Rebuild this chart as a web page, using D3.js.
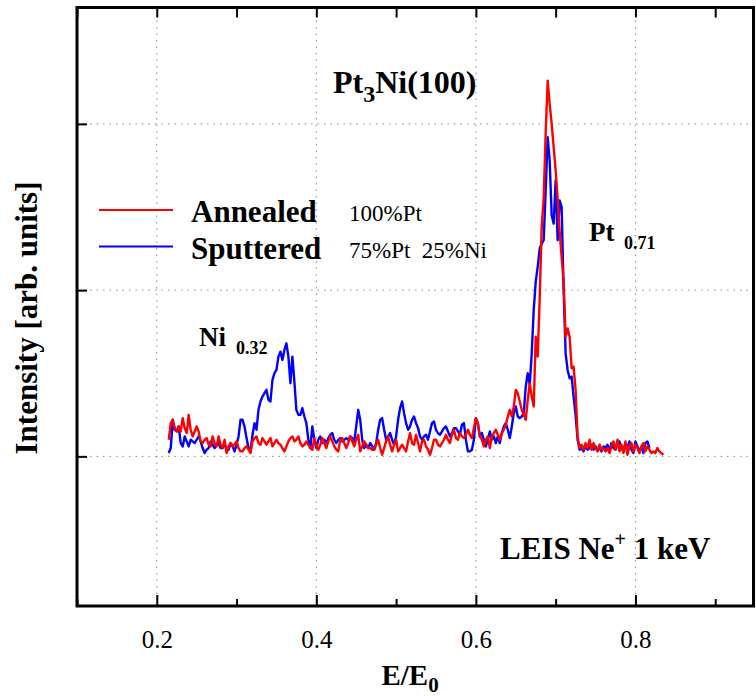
<!DOCTYPE html>
<html><head><meta charset="utf-8">
<script src="https://cdn.jsdelivr.net/npm/d3@7/dist/d3.min.js"></script>
<style>body{margin:0;background:#fff}svg{display:block}text{font-family:"Liberation Serif","Times New Roman",serif;white-space:pre}</style>
</head><body><svg id="c" width="756" height="696"></svg>
<script>
// Energy grid (E/E0) shared by both spectra
const energyStart = 0.215;
const energyStep = 0.0025;
// Annealed (100% Pt) – intensity, arb. units (baseline = 0)
const annealed = [
0.10,0.20,0.22,0.17,0.15,0.18,0.15,0.23,0.17,0.14,
0.25,0.16,0.12,0.15,0.18,0.15,0.09,0.08,0.10,0.11,
0.07,0.06,0.12,0.08,0.06,0.12,0.07,0.05,0.10,0.02,
0.06,0.08,0.06,0.07,0.09,0.05,0.03,0.03,0.05,0.06,
0.04,0.02,0.09,0.11,0.12,0.08,0.07,0.11,0.09,0.07,
0.09,0.11,0.06,0.08,0.10,0.08,0.07,0.05,0.03,0.06,
0.09,0.11,0.12,0.09,0.10,0.12,0.08,0.06,0.07,0.09,
0.07,0.05,0.04,0.11,0.07,0.04,0.07,0.11,0.08,0.05,
0.09,0.12,0.09,0.06,0.04,0.03,0.10,0.11,0.08,0.05,
0.08,0.12,0.09,0.06,0.10,0.13,0.03,0.06,0.09,0.07,
0.05,0.05,0.04,0.04,0.07,0.10,0.05,0.01,0.05,0.09,
0.12,0.07,0.03,0.07,0.10,0.03,0.05,0.07,0.05,0.03,
0.09,0.14,0.08,0.07,0.13,0.08,0.03,0.09,0.10,0.06,
0.04,0.01,0.05,0.10,0.10,0.07,0.06,0.08,0.10,0.13,
0.10,0.08,0.13,0.16,0.11,0.10,0.14,0.12,0.11,0.13,
0.16,0.13,0.11,0.17,0.23,0.20,0.12,0.10,0.06,0.10,
0.12,0.05,0.12,0.14,0.16,0.13,0.10,0.14,0.16,0.19,
0.24,0.28,0.24,0.30,0.40,0.38,0.33,0.28,0.25,0.22,
0.34,0.44,0.36,0.30,0.72,0.60,0.95,1.38,1.55,1.95,
2.26,2.12,2.00,1.86,1.72,1.55,1.35,1.20,1.05,0.72,
0.77,0.72,0.53,0.54,0.40,0.12,0.05,0.07,0.04,0.08,
0.05,0.10,0.04,0.08,0.05,0.03,0.07,0.04,0.05,0.03,
0.05,0.02,0.06,0.09,0.04,0.10,0.03,0.07,0.02,0.09,
0.01,0.06,0.08,0.03,0.07,0.05,0.02,0.06,0.08,0.03,
0.06,0.04,0.02,0.03,0.02,0.05,0.03,0.02,0.01
];
// Sputtered (75% Pt 25% Ni)
const sputtered = [
0.02,0.05,0.22,0.16,0.15,0.18,0.08,0.06,0.12,0.09,
0.06,0.10,0.09,0.08,0.10,0.12,0.09,0.05,0.02,0.04,
0.05,0.09,0.07,0.05,0.07,0.08,0.05,0.05,0.07,0.05,
0.04,0.08,0.06,0.03,0.07,0.12,0.22,0.22,0.18,0.11,
0.05,0.03,0.13,0.20,0.16,0.28,0.33,0.36,0.38,0.40,
0.34,0.33,0.46,0.50,0.52,0.60,0.63,0.58,0.64,0.68,
0.60,0.44,0.60,0.45,0.28,0.25,0.25,0.29,0.24,0.20,
0.10,0.05,0.18,0.10,0.05,0.10,0.12,0.08,0.10,0.08,
0.11,0.13,0.14,0.10,0.08,0.10,0.11,0.09,0.10,0.11,
0.10,0.12,0.11,0.09,0.18,0.28,0.22,0.10,0.05,0.07,
0.05,0.08,0.06,0.04,0.08,0.16,0.22,0.23,0.16,0.10,
0.12,0.14,0.10,0.07,0.12,0.22,0.29,0.33,0.26,0.20,
0.16,0.18,0.22,0.24,0.20,0.17,0.12,0.10,0.12,0.13,
0.10,0.15,0.20,0.21,0.16,0.14,0.13,0.15,0.17,0.18,
0.15,0.12,0.14,0.17,0.17,0.15,0.13,0.19,0.20,0.10,
0.03,0.03,0.04,0.10,0.23,0.20,0.12,0.14,0.10,0.06,
0.10,0.15,0.10,0.12,0.08,0.12,0.08,0.14,0.18,0.20,
0.16,0.11,0.18,0.26,0.30,0.24,0.23,0.24,0.26,0.42,
0.50,0.43,0.62,0.88,1.05,1.14,1.25,1.28,1.30,1.60,
1.92,1.78,1.45,1.40,1.66,1.30,1.54,1.50,1.00,0.62,
0.52,0.47,0.48,0.36,0.25,0.10,0.04,0.05,0.03,0.06,
0.04,0.05,0.07,0.04,0.06,0.04,0.05,0.03,0.06,0.05,
0.07,0.03,0.08,0.05,0.04,0.07,0.09,0.05,0.03,0.08,
0.05,0.09,0.04,0.02,0.09,0.06,0.03,0.06,0.02,0.08,
0.09,0.05
];
const xMajorTicks = [0.2, 0.4, 0.6, 0.8];
const xMinorTicks = [0.1, 0.3, 0.5, 0.7, 0.9];
const xTickLabels = ["0.2", "0.4", "0.6", "0.8"];
const yTicks = [0, 1, 2];
const seriesNames = ["Annealed", "Sputtered"];
const seriesNotes = ["100%Pt", "75%Pt  25%Ni"];
const seriesColors = ["#ff0000", "#0000ff"];

const svg = d3.select("#c");
const L = 77, R = 753.5, T = 7.5, B = 606;
const x = d3.scaleLinear().domain([0.1, 0.948]).range([L, R]);
const y = d3.scaleLinear().domain([-0.9, 2.7]).range([B, T]);
const serif = '"Liberation Serif","Times New Roman",serif';

// grid
const grid = svg.append("g").attr("stroke", "#8a8a8a").attr("stroke-width", 1).attr("stroke-dasharray", "1.5,5");
grid.selectAll("line.v").data(xMajorTicks).join("line")
  .attr("x1", d => x(d)).attr("x2", d => x(d)).attr("y1", T).attr("y2", B);
grid.selectAll("line.h").data(yTicks).join("line")
  .attr("x1", L).attr("x2", R).attr("y1", d => y(d)).attr("y2", d => y(d));

// spectra
const line = d3.line().x((d, i) => x(energyStart + i * energyStep)).y(d => y(d));
svg.append("path").datum(sputtered).attr("d", line).attr("fill", "none")
  .attr("stroke", seriesColors[1]).attr("stroke-width", 2.4).attr("stroke-linejoin", "round");
svg.append("path").datum(annealed).attr("d", line).attr("fill", "none")
  .attr("stroke", seriesColors[0]).attr("stroke-width", 2.4).attr("stroke-linejoin", "round");

// axes (ticks inward)
function styleAxis(g){ g.select(".domain").remove(); g.selectAll("line").attr("stroke","#000").attr("stroke-width",2); }
svg.append("g").attr("transform", `translate(0,${B})`)
  .call(d3.axisBottom(x).tickValues(xMajorTicks).tickSize(-11).tickFormat((d, i) => xTickLabels[i]).tickPadding(24))
  .call(styleAxis)
  .call(g => g.selectAll("text").attr("font-family", serif).attr("font-size", 25).attr("fill", "#000"));
svg.append("g").attr("transform", `translate(0,${B})`)
  .call(d3.axisBottom(x).tickValues(xMinorTicks).tickSize(-7).tickFormat(""))
  .call(styleAxis);
svg.append("g").attr("transform", `translate(0,${T})`)
  .call(d3.axisTop(x).tickValues(xMajorTicks.concat(xMinorTicks)).tickSize(-10).tickFormat(""))
  .call(styleAxis);
svg.append("g").attr("transform", `translate(${L},0)`)
  .call(d3.axisLeft(y).tickValues(yTicks).tickSize(-10).tickFormat(""))
  .call(styleAxis);

// frame
svg.append("rect").attr("x", L).attr("y", T).attr("width", R - L).attr("height", B - T)
  .attr("fill", "none").attr("stroke", "#000").attr("stroke-width", 3);

// title
const t = svg.append("text").attr("x", 333).attr("y", 93).attr("font-size", 32).attr("font-weight", "bold");
t.append("tspan").text("Pt");
t.append("tspan").attr("dy", 9).attr("font-size", 24).text("3");
t.append("tspan").attr("dy", -9).text("Ni(100)");

// legend
const legY = [210, 246.5];
seriesNames.forEach((n, i) => {
  svg.append("line").attr("x1", 99).attr("x2", 173).attr("y1", legY[i]).attr("y2", legY[i])
    .attr("stroke", seriesColors[i]).attr("stroke-width", 2);
  svg.append("text").attr("x", 191).attr("y", legY[i] + 12).attr("font-size", 31).attr("font-weight", "bold").text(n);
  svg.append("text").attr("x", 349).attr("y", legY[i] + 11).attr("font-size", 23).attr("xml:space", "preserve").text(seriesNotes[i]);
});

// peak labels
const ni = svg.append("text").attr("x", 199).attr("y", 346).attr("font-weight", "bold").attr("font-size", 27);
ni.append("tspan").text("Ni");
ni.append("tspan").attr("x", 236).attr("dy", 8).attr("font-size", 18).text("0.32");
const pt = svg.append("text").attr("x", 589).attr("y", 241).attr("font-weight", "bold").attr("font-size", 27);
pt.append("tspan").text("Pt");
pt.append("tspan").attr("x", 624).attr("dy", 8).attr("font-size", 18).text("0.71");

// LEIS
const le = svg.append("text").attr("x", 500).attr("y", 559).attr("font-weight", "bold").attr("font-size", 31);
le.append("tspan").text("LEIS Ne");
le.append("tspan").attr("dy", -13).attr("font-size", 20).text("+");
le.append("tspan").attr("dy", 13).text(" 1 keV");

// axis titles
const xl = svg.append("text").attr("x", 410).attr("y", 685).attr("text-anchor", "middle").attr("font-weight", "bold").attr("font-size", 29);
xl.append("tspan").text("E/E");
xl.append("tspan").attr("dy", 7).attr("font-size", 21).text("0");
svg.append("text").attr("transform", "translate(37,318) rotate(-90)").attr("text-anchor", "middle")
  .attr("font-weight", "bold").attr("font-size", 31).text("Intensity [arb. units]");
</script></body></html>
